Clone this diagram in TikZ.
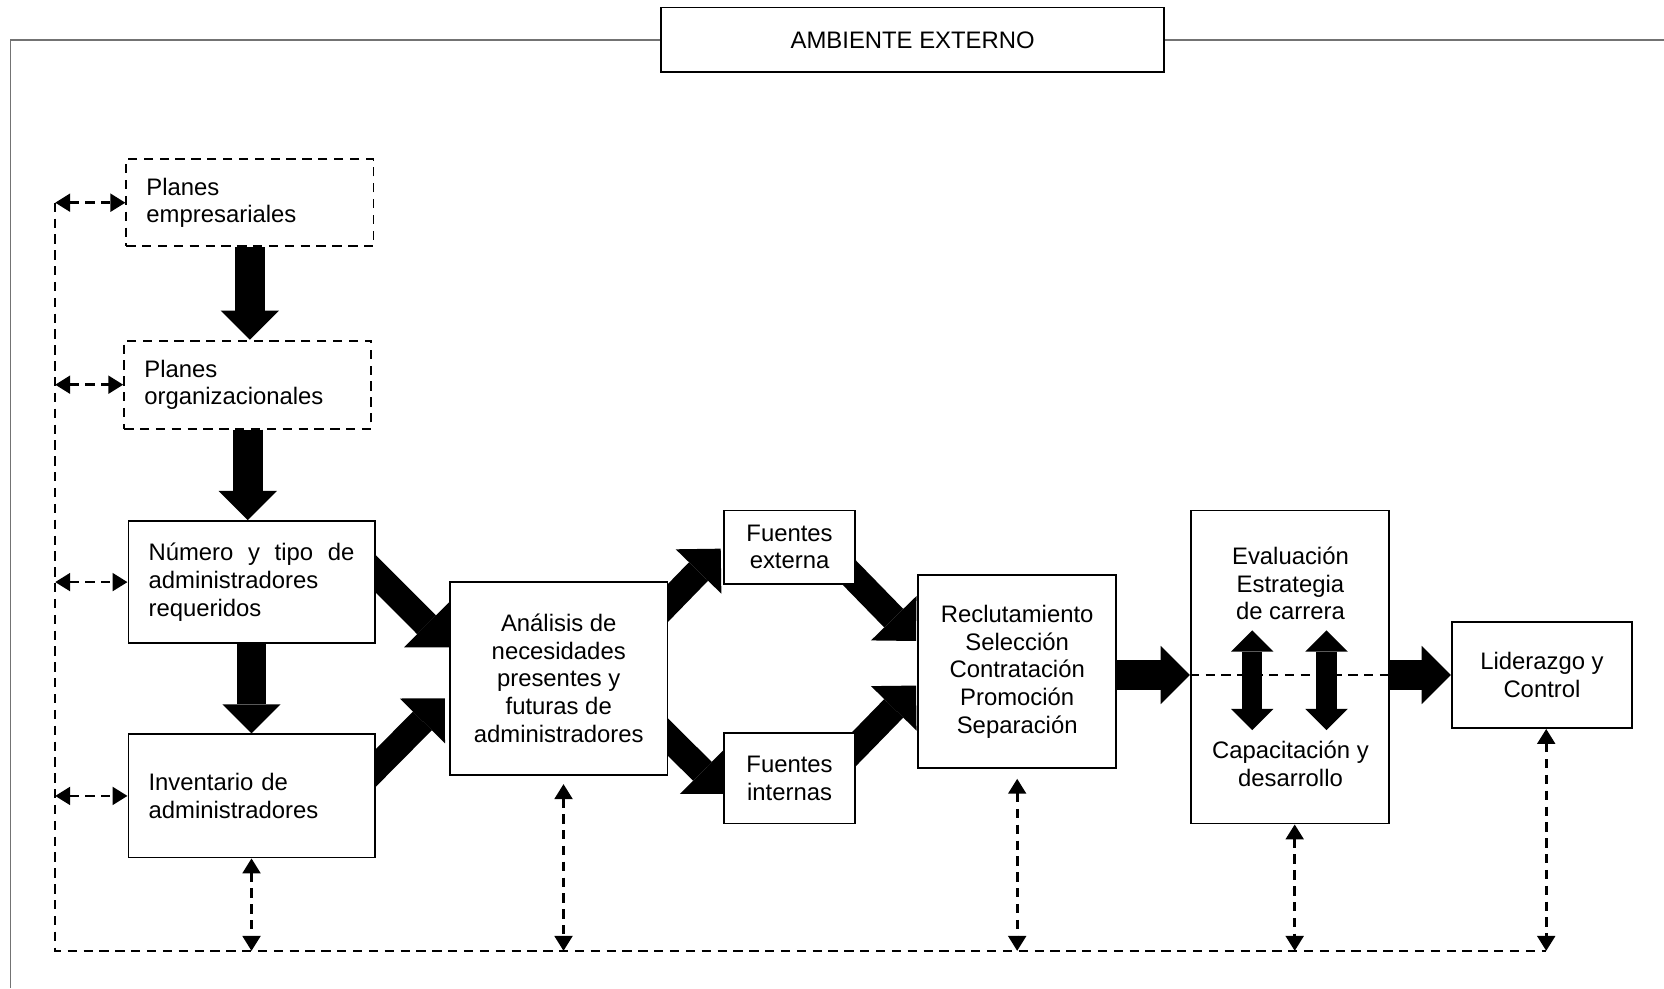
\documentclass[tikz,border=0pt]{standalone}
\usepackage{fontspec}
\setmainfont{Liberation Sans}
\usetikzlibrary{arrows.meta,backgrounds}

\begin{document}
\begin{tikzpicture}[x=0.02cm, y=-0.02cm,
  procbox/.style={draw, line width=1pt, fill=white, inner sep=0pt, align=center,
    font=\fontsize{12.8}{14.8}\selectfont},
  leftbox/.style={procbox, align=left, inner xsep=0.38cm},
  planbox/.style={leftbox, dash pattern=on 5pt off 3.5pt},
  boxtext/.style={inner sep=0pt, align=center, font=\fontsize{12.8}{14.8}\selectfont},
  bigarrow/.style={line width=0.56cm, -{Triangle[width=1.1cm,length=0.55cm,line width=0pt]}},
  diagarrow/.style={line width=0.5cm, -{Triangle[width=1.2cm,length=0.6cm,line width=0pt]}},
  twoway/.style={line width=0.38cm,
    {Triangle[width=0.8cm,length=0.4cm,line width=0pt]}-{Triangle[width=0.8cm,length=0.4cm,line width=0pt]}},
  fbline/.style={line width=1pt, dash pattern=on 5pt off 3.5pt},
  fbarrow/.style={line width=1.5pt, dash pattern=on 5pt off 3.5pt,
    {Triangle[width=9.5pt,length=8pt]}-{Triangle[width=9.5pt,length=8pt]}},
  outerline/.style={line width=0.8pt, black!55}
]
\useasboundingbox (0,0) rectangle (1568,931);

\node[procbox, minimum width=9.48cm, minimum height=1.22cm] (amb) at (860,37.5) {AMBIENTE EXTERNO};

\node[planbox, text width=3.9cm, minimum height=1.64cm] (pe) at (235.5,191) {Planes\\empresariales};
\node[planbox, text width=3.9cm, minimum height=1.66cm] (po) at (233.5,362.5) {Planes\\organizacionales};
\node[leftbox, text width=3.88cm, minimum height=2.3cm] (num) at (237,548.5) {N\'umero\hfill y\hfill tipo\hfill de\\administradores\\requeridos};
\node[leftbox, text width=3.88cm, minimum height=2.32cm] (inv) at (237,750) {Inventario de\\administradores};

\node[procbox, minimum width=4.1cm, minimum height=3.64cm] (ana) at (526.5,639) {An\'alisis de\\necesidades\\presentes y\\futuras de\\administradores};
\node[procbox, minimum width=2.48cm, minimum height=1.38cm] (fe) at (744,515.5) {Fuentes\\externa};
\node[procbox, minimum width=2.48cm, minimum height=1.7cm] (fi) at (744,733.5) {Fuentes\\internas};
\node[procbox, minimum width=3.74cm, minimum height=3.64cm] (rec) at (958.5,633) {Reclutamiento\\Selecci\'on\\Contrataci\'on\\Promoci\'on\\Separaci\'on};

\node[procbox, minimum width=3.74cm, minimum height=5.9cm] (eva) at (1215.5,628.5) {};
\node[boxtext] (evat) at (1216,550) {Evaluaci\'on\\Estrategia\\de carrera};
\node[boxtext] (evab) at (1216,720) {Capacitaci\'on y\\desarrollo};
\node[procbox, minimum width=3.4cm, minimum height=2cm] (lid) at (1453,636) {Liderazgo y\\Control};

\coordinate (ftl) at (10,37.5);
\coordinate (fbl) at (10,931);
\coordinate (ftr) at (1568,37.5);
\draw[outerline] (fbl) -- (ftl) -- (amb.west);
\draw[outerline] (amb.east) -- (ftr);

\coordinate (lt) at (52,191);
\coordinate (lb) at (52,896);
\draw[fbline] (lt) -- (lb) -- ([xshift=0.08cm]lid.south |- lb);

\draw[fbarrow] (lt |- pe.west) -- (pe.west);
\draw[fbarrow] (lt |- po.west) -- (po.west);
\draw[fbarrow] (lt |- num.west) -- (num.west);
\draw[fbarrow] (lt |- inv.west) -- (inv.west);

\draw[fbarrow] (inv.south) -- (inv.south |- lb);
\draw[fbarrow, shorten <=0.16cm] ([xshift=0.09cm]ana.south) -- ([xshift=0.09cm]ana.south |- lb);
\draw[fbarrow, shorten <=0.18cm] (rec.south) -- (rec.south |- lb);
\draw[fbarrow] ([xshift=0.09cm]eva.south) -- ([xshift=0.09cm]eva.south |- lb);
\draw[fbarrow] ([xshift=0.08cm]lid.south) -- ([xshift=0.08cm]lid.south |- lb);

\draw[fbline] (eva.west |- lid.west) -- (eva.east |- lid.west);
\draw[twoway] (1180,594) -- (1180,688);
\draw[twoway] (1250,594) -- (1250,688);

\begin{scope}[on background layer]
\draw[bigarrow] (pe.south) -- (pe.south |- po.north);
\draw[bigarrow] (po.south) -- (po.south |- num.north);
\draw[bigarrow] (num.south) -- (num.south |- inv.north);

\draw[diagarrow] ([shift={(-12,-20)}]num.east) -- ([shift={(0,-29)}]ana.west);
\draw[diagarrow] ([shift={(-12,-14)}]inv.east) -- ([shift={(-4,19)}]ana.west);
\draw[diagarrow] ([shift={(-11,-60)}]ana.east) -- ([shift={(-2,1.5)}]fe.west);
\draw[diagarrow] ([shift={(-11,45)}]ana.east) -- ([shift={(2,14.5)}]fi.west);
\draw[diagarrow] ([shift={(-12,18.5)}]fe.east) -- ([shift={(-1,-29)}]rec.west);
\draw[diagarrow] ([shift={(-12,-17.5)}]fi.east) -- ([shift={(-1,13)}]rec.west);

\draw[bigarrow] (rec.east |- lid.west) -- (eva.west |- lid.west);
\draw[bigarrow] (eva.east |- lid.west) -- (lid.west);
\end{scope}

\end{tikzpicture}
\end{document}
